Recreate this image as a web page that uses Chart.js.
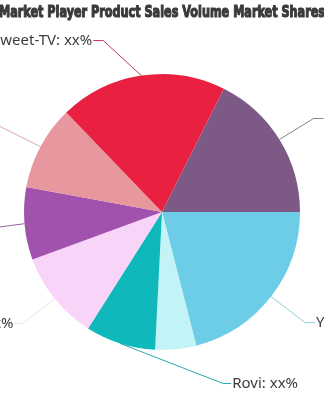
<!DOCTYPE html>
<html lang="en">
<head>
    <meta charset="UTF-8">
    <title>Market Player Product Sales Volume Market Shares</title>
    <script src="https://cdn.jsdelivr.net/npm/chart.js"></script>
    <style>
        body { margin: 0; background: #fff; overflow: hidden; width: 324px; height: 400px; position: relative; }
        /* canvas is wider than the window so the outer labels get cut off like in the original */
        #pieChart { position: absolute; left: -138px; top: 0; }
    </style>
</head>
<body>
    <canvas id="pieChart" width="600" height="400"></canvas>

    <script>
        // Data (clockwise from 3 o'clock)
        const players = ["YuppTV", "Kyivstar TV", "Rovi", "Megogo", "Volia", "Divan.TV", "Sweet-TV", "Triolan"];
        const shares = [21.0, 4.8, 8.2, 10.4, 8.5, 9.9, 19.6, 17.6];
        const labelText = ["YuppTV: xx%", "", "Rovi: xx%", "Megogo: xx%", "Volia: xx%", "Divan.TV: xx%", "Sweet-TV: xx%", "Triolan: xx%"];
        const titleText = "Market Player Product Sales Volume Market Shares";

        const colors = ["#6dcde6", "#c2f4f7", "#0fb8bb", "#f8d5f8", "#a152ad", "#e8979f", "#e9203f", "#7c5a85"];
        const lineColors = ["#8fcfdf", "#c2f4f7", "#2aa8b0", "#f0dcf0", "#9a62a6", "#dca3aa", "#c23658", "#858088"];
        // leader line elbow offset from the slice edge, then horizontal run
        const elbows = [[34, 26, 10], null, [103, 40, 8], [-32, 25, -8], [-30, 4, -10], [-46, -23, -10], [-38, -35, -10], [34, -21, 10]];

        // title + leader lines + labels
        const outLabels = {
            id: "outLabels",
            afterDatasetsDraw(chart) {
                const ctx = chart.ctx;
                const arcs = chart.getDatasetMeta(0).data;

                ctx.save();
                ctx.lineWidth = 1;
                ctx.font = "15px 'Noto Sans', 'Open Sans', sans-serif";
                ctx.textBaseline = "middle";
                arcs.forEach((arc, i) => {
                    if (!elbows[i]) return;
                    const mid = (arc.startAngle + arc.endAngle) / 2;
                    const ex = arc.x + Math.cos(mid) * arc.outerRadius;
                    const ey = arc.y + Math.sin(mid) * arc.outerRadius;
                    const bx = ex + elbows[i][0];
                    const by = ey + elbows[i][1];
                    const hx = bx + elbows[i][2];
                    ctx.strokeStyle = lineColors[i];
                    ctx.beginPath();
                    ctx.moveTo(ex, ey);
                    ctx.lineTo(bx, by);
                    ctx.lineTo(hx, by);
                    ctx.stroke();
                    ctx.fillStyle = "#3c3c3c";
                    if (elbows[i][2] > 0) {
                        ctx.textAlign = "left";
                        ctx.fillText(labelText[i], hx + 1, by);
                    } else {
                        ctx.textAlign = "right";
                        ctx.fillText(labelText[i], hx - 1, by);
                    }
                });

                // condensed heavy title, squeezed to width
                ctx.font = "bold 16px 'DejaVu Sans', sans-serif";
                ctx.textAlign = "center";
                ctx.textBaseline = "alphabetic";
                const w = ctx.measureText(titleText).width;
                const sx = 326 / w;
                ctx.translate(chart.width / 2, 17);
                ctx.scale(sx, 1);
                ctx.fillStyle = "#3a3a3a";
                ctx.strokeStyle = "#3a3a3a";
                ctx.lineWidth = 1.2;
                ctx.fillText(titleText, 0, 0);
                ctx.strokeText(titleText, 0, 0);
                ctx.restore();
            }
        };

        new Chart(document.getElementById("pieChart"), {
            type: "pie",
            data: {
                labels: players,
                datasets: [{
                    data: shares,
                    backgroundColor: colors,
                    borderWidth: 0,
                    hoverOffset: 0
                }]
            },
            options: {
                responsive: false,
                devicePixelRatio: 1,
                animation: false,
                rotation: 90,
                layout: { padding: { top: 74, bottom: 50 } },
                plugins: {
                    legend: { display: false },
                    tooltip: { enabled: false }
                }
            },
            plugins: [outLabels]
        });
    </script>
</body>
</html>
